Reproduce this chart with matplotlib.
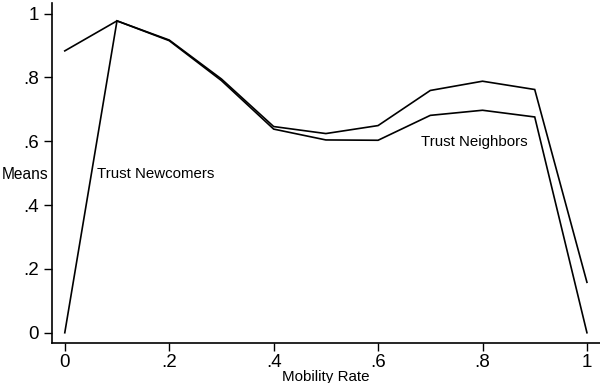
import matplotlib
matplotlib.use("Agg")
import matplotlib.pyplot as plt

plt.rcParams['font.family'] = ['Liberation Sans', 'DejaVu Sans']

mobility = [0.0, 0.1, 0.2, 0.3, 0.4, 0.5, 0.6, 0.7, 0.8, 0.9, 1.0]
trust_neighbors = [0.883, 0.977, 0.917, 0.795, 0.646, 0.624, 0.649, 0.759, 0.788, 0.762, 0.158]
trust_newcomers = [0.0, 0.977, 0.915, 0.790, 0.638, 0.604, 0.603, 0.681, 0.697, 0.676, 0.0]
xticks = [0, 0.2, 0.4, 0.6, 0.8, 1.0]
xticklabels = ['0', '.2', '.4', '.6', '.8', '1']
yticks = [0, 0.2, 0.4, 0.6, 0.8, 1.0]
yticklabels = ['0', '.2', '.4', '.6', '.8', '1']

fig = plt.figure(figsize=(6, 3.83), dpi=100)
ax = fig.add_axes([0.0862, 0.1037, 0.9138, 0.8893])

ax.plot(mobility, trust_neighbors, color='black', lw=1.2, solid_joinstyle='miter')
ax.plot(mobility, trust_newcomers, color='black', lw=1.2, solid_joinstyle='miter')

ax.set_xlim(-0.025, 1.025)
ax.set_ylim(-0.033, 1.034)
ax.set_xticks(xticks)
ax.set_xticklabels(xticklabels)
ax.set_yticks(yticks)
ax.set_yticklabels(yticklabels)
ax.tick_params(axis='both', direction='out', length=5.5, width=1.0, labelsize=13.5, color='black')
ax.tick_params(axis='x', pad=2.5)
ax.tick_params(axis='y', pad=4)

for s in ['top', 'right']:
    ax.spines[s].set_visible(False)
for s in ['left', 'bottom']:
    ax.spines[s].set_linewidth(1.2)

ax.set_xlabel('Mobility Rate', fontsize=10.9)
ax.xaxis.set_label_coords(0.5, -0.099)
ax.xaxis.label.set_va('center')
ax.set_ylabel('Means', fontsize=11.2, rotation=0)
ax.yaxis.set_label_coords(-0.0487, 0.497)
ax.yaxis.label.set_va('center')
ax.yaxis.label.set_ha('center')

ax.text(0.0618, 0.4975, 'Trust Newcomers', fontsize=10.8, va='center', ha='left')
ax.text(0.682, 0.599, 'Trust Neighbors', fontsize=10.8, va='center', ha='left')

fig.savefig('out.png', dpi=100)
